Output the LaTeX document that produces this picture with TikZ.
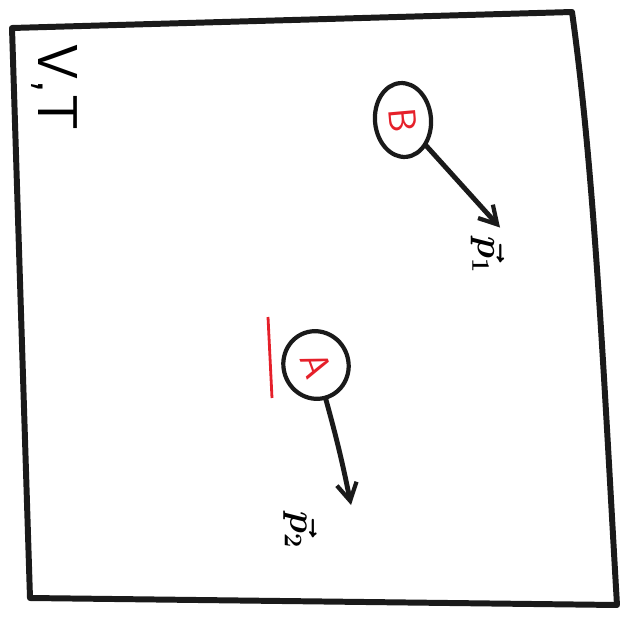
\documentclass[tikz,border=0pt]{standalone}
\usepackage{xcolor}
\usepackage{tikz}
\usetikzlibrary{arrows.meta,positioning,calc,shapes.geometric}
\definecolor{inkred}{HTML}{E5202A}
\definecolor{inkblack}{HTML}{1A1A1A}

\begin{document}
\begin{tikzpicture}[
  wall/.style={draw=inkblack,line width=3.4pt,line cap=round,line join=round},
  particle/.style={draw=inkblack,ellipse,line width=2.4pt,inner sep=0pt,text=inkred,font=\sffamily\fontsize{22}{22}\selectfont},
  momentum/.style={-{Straight Barb[length=3.5mm,width=4mm,line width=2.4pt]},line width=2.8pt,draw=inkblack,line cap=round},
  plabel/.style={font=\boldmath\fontsize{20}{20}\selectfont,rotate=-90,inner sep=1pt}
]
\useasboundingbox (0,0) rectangle (12.58,-12.38);
% container
\coordinate (tl) at (0.24,-0.56);
\coordinate (tr) at (11.44,-0.24);
\coordinate (br) at (12.34,-12.1);
\coordinate (bl) at (0.6,-11.96);
\draw[wall] (tl) -- (tr) .. controls (11.9,-3.5) and (12.1,-8) .. (br) -- (bl) -- cycle;
\node[font=\sffamily\fontsize{32}{32}\selectfont,rotate=-90] (state) at (1.08,-1.75) {V,T};
% particle B
\node[particle,minimum width=1.48cm,minimum height=1.12cm,rotate=-85] (B) at (8.06,-2.4) {B};
\coordinate (tip1) at (10.0,-4.55);
\draw[momentum] (B) -- (tip1);
\node[plabel] (p1) at (9.75,-5.1) {$\vec{p}_1$};
% particle A
\node[particle,minimum width=1.36cm,minimum height=1.3cm,rotate=-70] (A) at (6.32,-7.3) {A};
\coordinate (tip2) at (7.02,-10.1);
\draw[momentum] (A) to[bend left=2] (tip2);
\node[plabel] (p2) at (6.0,-10.6) {$\vec{p}_2$};
% red mark
\coordinate (m1) at (5.36,-6.34);
\coordinate (m2) at (5.44,-7.96);
\draw[inkred,line width=1.6pt] (m1) -- (m2);
\end{tikzpicture}
\end{document}
